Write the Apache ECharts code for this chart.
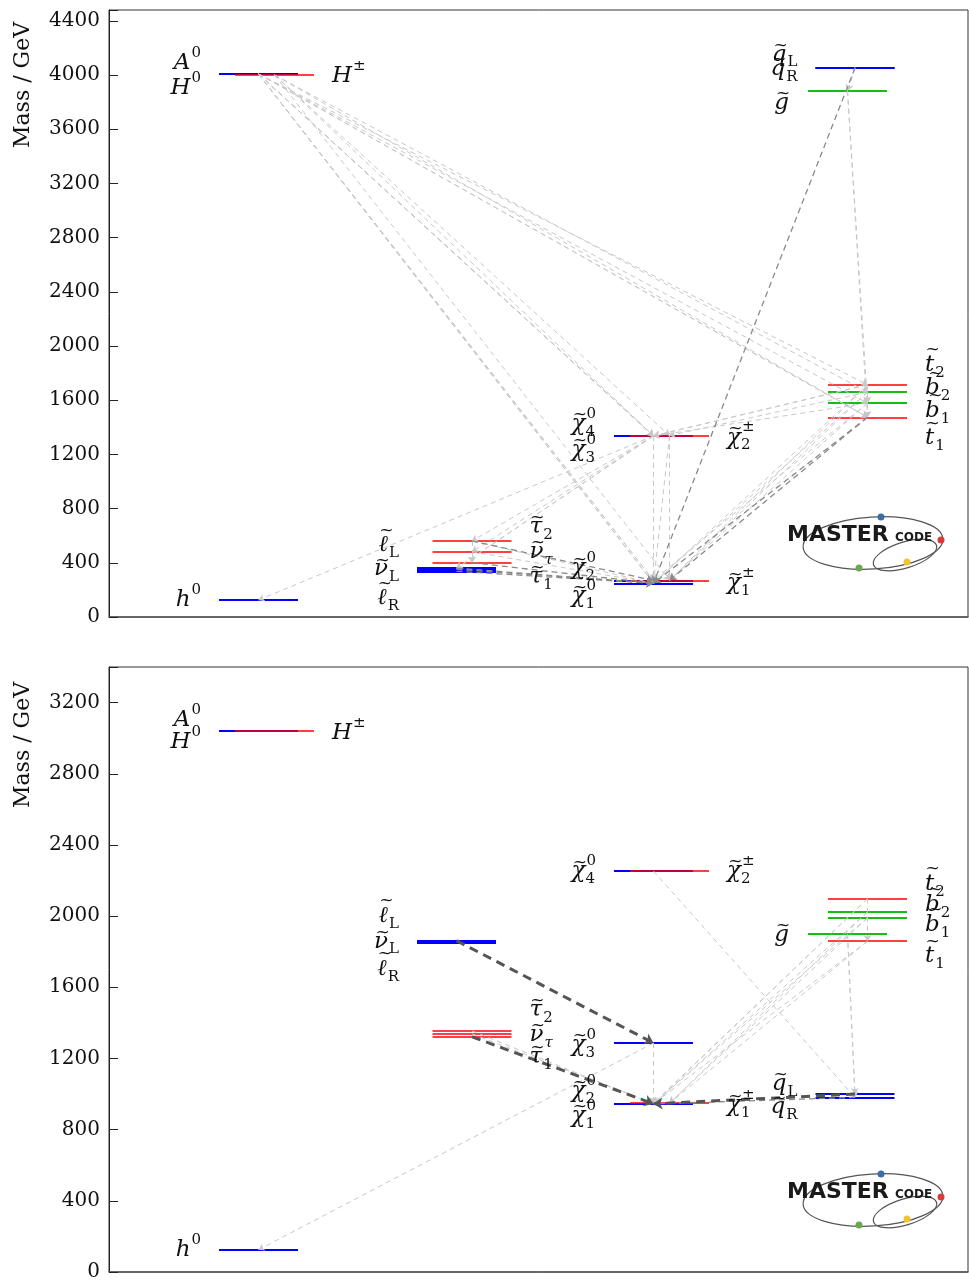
<!DOCTYPE html>
<html><head><meta charset="utf-8">
<script src="https://cdn.jsdelivr.net/npm/echarts@6/dist/echarts.min.js"></script>
<style>html,body{margin:0;padding:0;background:#fff}#c{width:969px;height:1282px}</style>
</head><body><div id="c"></div>
<script>
// ---------------- DATA ----------------
const particles = ['h0','A0','H0','Hpm','lL','nuL','lR','tau2','nutau','tau1','chi1','chi2','chi3','chi4','chipm1','chipm2','qL','qR','go','t1','t2','b1','b2'];
const massesTop    = [125, 4008, 4008, 4001, 360, 352, 337, 561, 482, 401, 249, 270, 1336, 1337, 271, 1339, 4055, 4053, 3884, 1474, 1714, 1579, 1660];
const massesBottom = [125, 3040, 3040, 3040, 1862, 1857, 1850, 1355, 1338, 1322, 945, 948, 1287, 2253, 949, 2255, 1000, 981, 1900, 1859, 2098, 1990, 2023];
const yTicksTop = [0, 400, 800, 1200, 1600, 2000, 2400, 2800, 3200, 3600, 4000, 4400];
const yTicksBottom = [0, 400, 800, 1200, 1600, 2000, 2400, 2800, 3200];
// decays: [parent, daughter, strength 0 light / 1 medium / 2 strong]
const decaysTop = [
 ['A0','chi3',0],['A0','chi4',0],['H0','chi3',0],['H0','chi4',0],['Hpm','chipm2',0],['Hpm','chi3',0],
 ['A0','chi1',0],['A0','chi2',0],['H0','chi1',0],['H0','chi2',0],['Hpm','chipm1',0],
 ['A0','t1',0],['H0','t1',0],['A0','t2',0],['H0','b1',0],['Hpm','t1',0],['Hpm','b2',0],
 ['chi3','chi1',0],['chi3','chi2',0],['chi4','chi1',0],['chi4','chi2',0],['chipm2','chi1',0],['chipm2','chipm1',0],
 ['chi3','lL',0],['chi4','lL',0],['chi3','tau2',0],['chi4','nutau',0],['chi4','h0',0],
 ['t1','chi1',1],['t1','chipm1',1],['t2','chi1',0],['t2','chipm1',0],['b1','chi2',0],['b1','chipm1',0],['b2','chi1',0],['b2','chipm1',0],
 ['t2','chi3',0],['t2','chi4',0],['b1','chi3',0],['b2','chipm2',0],['t2','t1',0],['b2','b1',0],
 ['qL','go',0],['qR','go',0],['qR','chi1',1],['go','t1',0],['go','b1',0],
 ['lL','chi1',1],['nuL','chi1',1],['lR','chi1',1],['tau1','chi1',1],['nutau','chi1',0],['tau2','chi1',0],['tau2','tau1',0],['nutau','tau1',0],['tau2','chi2',1]
];
const decaysBottom = [
 ['lL','chi3',2],['tau1','chi1',2],['tau2','chi1',0],['nutau','chi2',0],
 ['chi4','qR',0],['chi3','chi1',0],['chi3','chi2',0],['chi3','h0',0],
 ['qL','chi1',2],['qR','chi1',1],
 ['t1','chi1',0],['t1','chipm1',0],['t2','chi1',0],['t2','chi2',0],['b1','chi1',0],['b1','chipm1',0],['b2','chi1',0],['b2','chipm1',0],
 ['t2','t1',0],['go','qL',0],['go','qR',0]
];
// label texts: [symbol, has tilde, superscript, subscript]
const labelTexts = {
 A0:['A',0,'0',''], H0:['H',0,'0',''], Hpm:['H',0,'±',''], h0:['h',0,'0',''],
 lL:['ℓ',1,'','L'], nuL:['ν',1,'','L'], lR:['ℓ',1,'','R'],
 tau2:['τ',1,'','2'], nutau:['ν',1,'','τ'], tau1:['τ',1,'','1'],
 chi4:['χ',1,'0','4'], chi3:['χ',1,'0','3'], chi2:['χ',1,'0','2'], chi1:['χ',1,'0','1'],
 chipm2:['χ',1,'±','2'], chipm1:['χ',1,'±','1'],
 qL:['q',1,'','L'], qR:['q',1,'','R'], go:['g',1,'',''],
 t2:['t',1,'','2'], b2:['b',1,'','2'], b1:['b',1,'','1'], t1:['t',1,'','1']
};

// ---------------- LAYOUT / STYLE ----------------
const GRID_W = 859;
const HW = 39.5;
const SLOT = { // column centres (x units = pixels inside grid), colour key
 h0:[149.5,'B'], A0:[149.5,'B'], H0:[149.5,'B'], Hpm:[165.5,'R'],
 lL:[347.5,'B'], nuL:[347.5,'B'], lR:[347.5,'B'], tau2:[363,'R'], nutau:[363,'R'], tau1:[363,'R'],
 chi1:[544.5,'B'], chi2:[544.5,'B'], chi3:[544.5,'B'], chi4:[544.5,'B'], chipm1:[560.5,'R'], chipm2:[560.5,'R'],
 qL:[746,'B'], qR:[746,'B'], go:[738.5,'G'], t1:[758.5,'R'], t2:[758.5,'R'], b1:[758.5,'G'], b2:[758.5,'G']
};
const COLORS = {B:'#0000ff', R:'#ff0000', G:'#16bb16'};
const labelLayoutTop = [
 ['A0','L',-11],['H0','L',14],['Hpm','R',1],['h0','L',0],
 ['lL','L',-23],['nuL','L',0],['lR','L',27],
 ['tau2','R',-14],['nutau','R',0],['tau1','R',14],
 ['chi4','L',-12],['chi3','L',14],['chipm2','R',2],
 ['chi2','L',-12],['chi1','L',13],['chipm1','R',3],
 ['qL','L',-13],['qR','L',1],['go','L',12],
 ['t2','R',-20],['b2','R',-4],['b1','R',8],['t1','R',21]
];
const labelLayoutBottom = [
 ['A0','L',-11],['H0','L',11],['Hpm','R',2],['h0','L',0],
 ['lL','L',-25],['nuL','L',0],['lR','L',26],
 ['tau2','R',-21],['nutau','R',1],['tau1','R',20],
 ['chi4','L',0],['chipm2','R',0],['chi3','L',2],
 ['chi2','L',-12],['chi1','L',12],['chipm1','R',2],
 ['qL','L',-10],['qR','L',10],['go','L',1],
 ['t2','R',-15],['b2','R',-7],['b1','R',7],['t1','R',15]
];

const FF = 'DejaVu Serif';
const BASE_FONT = 'italic 23px "DejaVu Serif"';
const SMALL_FONT = '15px "DejaVu Serif"';
const SMALL_IT = 'italic 15px "DejaVu Serif"';
const TILDE_FONT = '17px "DejaVu Serif"';
const TALL = ['ℓ','b','t','A','H','h'];
const mctx = document.createElement('canvas').getContext('2d');
function tw(t, f){ mctx.font = f; return mctx.measureText(t).width; }
function massOf(masses, p){ return masses[particles.indexOf(p)]; }

function levelSeries(gi, masses){
  const data = [];
  ['B','G','R'].forEach(c => {
    particles.forEach((p,i) => {
      const s = SLOT[p];
      if (s[1] !== c) return;
      data.push({coords:[[s[0]-HW, masses[i]],[s[0]+HW, masses[i]]], lineStyle:{color:COLORS[c], opacity: c==='R'?0.75:1}});
    });
  });
  return {type:'lines', coordinateSystem:'cartesian2d', xAxisIndex:gi, yAxisIndex:gi, z:2, silent:true,
    lineStyle:{width:2, type:'solid'}, symbol:['none','none'], data};
}
const DSTYLE = [
  {color:'#c8c8c8', width:1, type:[5,4], size:6},
  {color:'#8a8a8a', width:1.3, type:[6,4], size:7},
  {color:'#555555', width:3, type:[9,6], size:9}
];
function decaySeries(gi, masses, decays){
  return [0,1,2].map(k => ({
    type:'lines', coordinateSystem:'cartesian2d', xAxisIndex:gi, yAxisIndex:gi, z:3+k, silent:true,
    symbol:['none','arrow'], symbolSize:DSTYLE[k].size,
    lineStyle:{color:DSTYLE[k].color, width:DSTYLE[k].width, type:DSTYLE[k].type, opacity:1},
    data: decays.filter(d => d[2]===k).map(d => ({coords:[[SLOT[d[0]][0], massOf(masses,d[0])],[SLOT[d[1]][0], massOf(masses,d[1])]]}))
  }));
}
function labelSeries(gi, masses, layout){
  return {type:'custom', xAxisIndex:gi, yAxisIndex:gi, z:10, silent:true,
    data: layout.map(l => [SLOT[l[0]][0], massOf(masses,l[0])]),
    renderItem(params, api){
      const L = layout[params.dataIndex];
      const p = L[0], side = L[1], dy = L[2];
      const t = labelTexts[p];
      const xc = SLOT[p][0];
      const edge = api.coord([side==='L' ? xc-HW : xc+HW, api.value(1)]);
      const subIt = (t[3]==='τ');
      const bw = tw(t[0], BASE_FONT);
      const sw = Math.max(t[2]? tw(t[2], SMALL_FONT):0, t[3]? tw(t[3], subIt?SMALL_IT:SMALL_FONT):0);
      const total = bw + sw + 1;
      const x0 = side==='L' ? edge[0] - 18 - total : edge[0] + 18;
      const cy = edge[1] + dy;
      const ch = [{type:'text', style:{text:t[0], x:x0, y:cy, font:BASE_FONT, fill:'#111', verticalAlign:'middle', align:'left'}}];
      if (t[1]) {
        const tall = TALL.indexOf(t[0]) >= 0;
        ch.push({type:'text', style:{text:'~', x:x0 + bw/2 + (tall?3:1.5), y:cy - (tall?15:9), font:TILDE_FONT, fill:'#111', verticalAlign:'middle', align:'center'}});
      }
      if (t[2]) ch.push({type:'text', style:{text:t[2], x:x0+bw+1, y:cy-10, font:SMALL_FONT, fill:'#111', verticalAlign:'middle', align:'left'}});
      if (t[3]) ch.push({type:'text', style:{text:t[3], x:x0+bw+(t[2]?0:1), y:cy+8, font:subIt?SMALL_IT:SMALL_FONT, fill:'#111', verticalAlign:'middle', align:'left'}});
      return {type:'group', children:ch};
    }};
}
function yAxisCfg(gi, max, ticks){
  return {gridIndex:gi, type:'value', min:0, max:max, interval:400,
    axisLine:{show:true, lineStyle:{color:'#222', width:1}},
    axisTick:{show:true, inside:true, length:9, lineStyle:{color:'#222'}},
    splitLine:{show:false},
    axisLabel:{color:'#111', fontSize:20, fontFamily:FF, margin:9,
      formatter: v => ticks.indexOf(v) >= 0 ? String(v) : ''}};
}
function xAxisCfg(gi){
  return {gridIndex:gi, type:'value', min:0, max:GRID_W,
    axisLine:{show:true, onZero:false, lineStyle:{color:'#555', width:1.5}},
    axisTick:{show:false}, axisLabel:{show:false}, splitLine:{show:false}};
}
function logo(y0){
  return {type:'group', x:785, y:y0, children:[
    {type:'ellipse', shape:{cx:88, cy:35, rx:70, ry:26}, rotation:0.06, originX:88, originY:35, style:{fill:'none', stroke:'#555', lineWidth:1.2}},
    {type:'ellipse', shape:{cx:120, cy:47, rx:33, ry:13}, rotation:0.3, originX:120, originY:47, style:{fill:'none', stroke:'#555', lineWidth:1.2}},
    {type:'text', style:{text:'MASTER', x:2, y:27, font:'bold 22px "DejaVu Sans"', fill:'#1a1a1a', verticalAlign:'middle'}},
    {type:'text', style:{text:'CODE', x:110, y:30, font:'bold 12px "DejaVu Sans"', fill:'#1a1a1a', verticalAlign:'middle'}},
    {type:'circle', shape:{cx:96, cy:9, r:3.5}, style:{fill:'#3b6ea8'}},
    {type:'circle', shape:{cx:156, cy:32, r:3.5}, style:{fill:'#d83a3a'}},
    {type:'circle', shape:{cx:74, cy:60, r:3.5}, style:{fill:'#6aa84f'}},
    {type:'circle', shape:{cx:122, cy:54, r:3.5}, style:{fill:'#f1c232'}}
  ]};
}

const chart = echarts.init(document.getElementById('c'), null, {renderer:'canvas'});
chart.setOption({
  animation:false,
  backgroundColor:'#fff',
  grid:[
    {left:109, top:10, width:GRID_W, height:607, show:true, borderColor:'#333', borderWidth:1, backgroundColor:'transparent'},
    {left:109, top:667, width:GRID_W, height:607, show:true, borderColor:'#333', borderWidth:1, backgroundColor:'transparent'}
  ],
  xAxis:[xAxisCfg(0), xAxisCfg(1)],
  yAxis:[yAxisCfg(0, 4480, yTicksTop), yAxisCfg(1, 3400, yTicksBottom)],
  graphic:[
    {type:'text', x:34, y:85, rotation:Math.PI/2, style:{text:'Mass / GeV', font:'22px "DejaVu Serif"', fill:'#111', align:'center', verticalAlign:'bottom'}},
    {type:'text', x:34, y:745, rotation:Math.PI/2, style:{text:'Mass / GeV', font:'22px "DejaVu Serif"', fill:'#111', align:'center', verticalAlign:'bottom'}},
    logo(508), logo(1165)
  ],
  series:[
    levelSeries(0, massesTop), ...decaySeries(0, massesTop, decaysTop), labelSeries(0, massesTop, labelLayoutTop),
    levelSeries(1, massesBottom), ...decaySeries(1, massesBottom, decaysBottom), labelSeries(1, massesBottom, labelLayoutBottom)
  ]
});
</script></body></html>
